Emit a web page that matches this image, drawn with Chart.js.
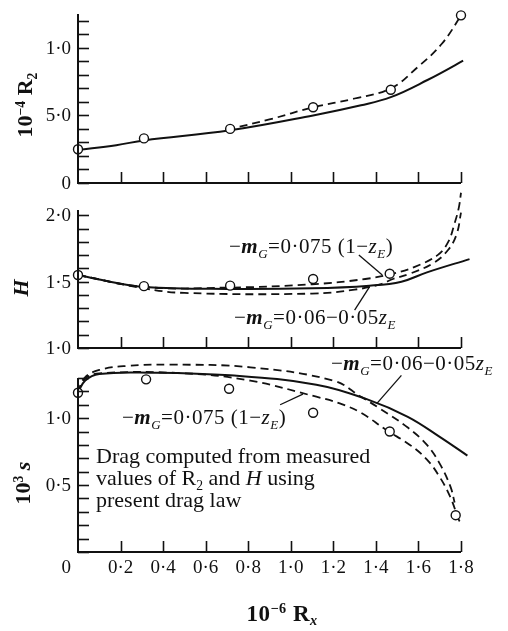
<!DOCTYPE html>
<html lang="en">
<head>
<meta charset="UTF-8">
<title>R2, H and skin friction against Rx</title>
<script src="https://cdn.jsdelivr.net/npm/chart.js"></script>
<style>
  body { margin: 0; background: #fff; }
  #wrap { position: relative; width: 508px; height: 631px; overflow: hidden;
          font-family: 'Liberation Serif', 'Times New Roman', serif; color: #111; }
  #wrap canvas { position: absolute; left: 0; top: 0; }
  .note { position: absolute; white-space: nowrap; font-size: 21px; line-height: 1; letter-spacing: 0.5px; }
  .note sub { font-size: 0.62em; vertical-align: -0.35em; line-height: 0; }
  .note sup { font-size: 0.62em; vertical-align: 0.55em; line-height: 0; }
  .ytitle { transform: translate(-50%, -50%) rotate(-90deg); font-weight: bold; font-size: 22px; letter-spacing: 0; }
  .xtitle { transform: translate(-50%, -50%); font-weight: bold; font-size: 23px; letter-spacing: 0.5px; }
  .drag { font-size: 22px; line-height: 22px; letter-spacing: 0; }
</style>
</head>
<body>
<div id="wrap">
  <canvas id="r2Chart" width="508" height="631"></canvas>
  <canvas id="hChart" width="508" height="631"></canvas>
  <canvas id="sChart" width="508" height="631"></canvas>

  <div class="note ytitle" style="left:25px; top:105px;">10<sup>−4</sup> R<sub>2</sub></div>
  <div class="note ytitle" style="left:21px; top:288px;"><i>H</i></div>
  <div class="note ytitle" style="left:23px; top:483px;">10<sup>3</sup> <i>s</i></div>
  <div class="note xtitle" style="left:282px; top:613px;">10<sup>−6</sup> R<sub><i>x</i></sub></div>

  <div class="note" style="left:229px; top:236px;">−<i><b>m</b><sub>G</sub></i>=0·075 (1−<i>z<sub>E</sub></i>)</div>
  <div class="note" style="left:234px; top:307px;">−<i><b>m</b><sub>G</sub></i>=0·06−0·05<i>z<sub>E</sub></i></div>
  <div class="note" style="left:331px; top:353px;">−<i><b>m</b><sub>G</sub></i>=0·06−0·05<i>z<sub>E</sub></i></div>
  <div class="note" style="left:122px; top:407px;">−<i><b>m</b><sub>G</sub></i>=0·075 (1−<i>z<sub>E</sub></i>)</div>
  <div class="note drag" style="left:96px; top:445px;">Drag computed from measured<br>values of R<sub>2</sub> and <i>H</i> using<br>present drag law</div>
</div>

<script>
  // shared x axis (10^-6 Rx)
  const xTickValues = [0, 0.2, 0.4, 0.6, 0.8, 1.0, 1.2, 1.4, 1.6, 1.8];
  const xTickLabels = ['0', '0·2', '0·4', '0·6', '0·8', '1·0', '1·2', '1·4', '1·6', '1·8'];

  // top panel: 10^-4 R2
  const r2Measured = [[0, 0.25], [0.31, 0.33], [0.715, 0.40], [1.105, 0.56], [1.47, 0.69], [1.8, 1.24]];
  const r2Solid = [[0, 0.245], [0.18, 0.28], [0.31, 0.315], [0.715, 0.39], [1.105, 0.50], [1.33, 0.575],
                   [1.47, 0.635], [1.64, 0.76], [1.81, 0.905], [1.84, 0.935]];
  const r2Dashed = [[0.7, 0.395], [0.9, 0.47], [1.105, 0.56], [1.3, 0.625], [1.47, 0.70], [1.595, 0.855],
                    [1.71, 1.03], [1.8, 1.24], [1.82, 1.30]];
  const r2TickValues = [0, 0.5, 1.0];
  const r2TickLabels = ['0', '5·0', '1·0'];

  // middle panel: H
  const hMeasured = [[0, 1.55], [0.31, 1.466], [0.715, 1.47], [1.105, 1.52], [1.465, 1.56], [1.8, 2.165]];
  const hSolid = [[0, 1.55], [0.15, 1.50], [0.31, 1.46], [0.7, 1.445], [1.1, 1.45], [1.37, 1.47],
                  [1.52, 1.50], [1.64, 1.57], [1.84, 1.67]];
  const hDashed075 = [[0, 1.55], [0.31, 1.46], [0.7, 1.455], [1.1, 1.48], [1.35, 1.52], [1.48, 1.56],
                      [1.58, 1.61], [1.69, 1.70], [1.74, 1.80], [1.77, 1.94], [1.79, 2.06], [1.80, 2.17]];
  const hDashed006 = [[0, 1.55], [0.31, 1.45], [0.5, 1.415], [1.1, 1.41], [1.3, 1.44], [1.42, 1.48],
                      [1.48, 1.52], [1.56, 1.56], [1.67, 1.64], [1.74, 1.74], [1.78, 1.86], [1.80, 2.02]];
  const hTickValues = [1.0, 1.5, 2.0];
  const hTickLabels = ['1·0', '1·5', '2·0'];

  // bottom panel: 10^3 s
  const sMeasured = [[0, 1.19], [0.32, 1.29], [0.71, 1.22], [1.105, 1.04], [1.465, 0.90], [1.775, 0.275]];
  const sSolid = [[0, 1.19], [0.033, 1.28], [0.1, 1.33], [0.34, 1.34], [0.715, 1.32], [1.12, 1.25],
                  [1.36, 1.14], [1.55, 1.01], [1.70, 0.86], [1.83, 0.72]];
  const sDashed006 = [[0, 1.19], [0.03, 1.30], [0.1, 1.36], [0.23, 1.39], [0.43, 1.40], [0.81, 1.38],
                      [1.2, 1.28], [1.33, 1.16], [1.42, 1.07], [1.55, 0.93], [1.64, 0.80], [1.70, 0.66],
                      [1.75, 0.49], [1.77, 0.37]];
  const sDashed075 = [[0, 1.19], [0.03, 1.29], [0.1, 1.335], [0.5, 1.335], [0.81, 1.28], [1.12, 1.16],
                      [1.23, 1.11], [1.33, 1.04], [1.45, 0.91], [1.56, 0.80], [1.64, 0.69], [1.70, 0.56],
                      [1.75, 0.41], [1.79, 0.24], [1.80, 0.215]];
  const sTickValues = [0.5, 1.0];
  const sTickLabels = ['0·5', '1·0'];

  const INK = '#111';
  const SERIF = "'Liberation Serif', 'Times New Roman', serif";
  const toXY = arr => arr.map(([x, y]) => ({ x, y }));

  // axes, inward ticks, tick labels and leader lines
  const framePlugin = {
    id: 'frame',
    afterDraw(chart, args, opts) {
      const { ctx, chartArea: a } = chart;
      const xs = chart.scales.x, ys = chart.scales.y;
      ctx.save();
      ctx.strokeStyle = INK;
      ctx.fillStyle = INK;
      ctx.lineWidth = 2;
      ctx.beginPath();
      ctx.moveTo(a.left, a.top);
      ctx.lineTo(a.left, a.bottom);
      ctx.lineTo(a.right, a.bottom);
      ctx.stroke();

      ctx.lineWidth = 1.6;
      for (let i = Math.ceil(ys.min * 10 - 1e-6); i <= Math.floor(ys.max * 10 + 1e-6); i++) {
        const py = Math.round(ys.getPixelForValue(i / 10)) + 0.5;
        ctx.beginPath();
        ctx.moveTo(a.left, py);
        ctx.lineTo(a.left + 11, py);
        ctx.stroke();
      }
      xTickValues.forEach(v => {
        if (v === 0) return;
        const px = Math.round(xs.getPixelForValue(v)) + 0.5;
        ctx.beginPath();
        ctx.moveTo(px, a.bottom);
        ctx.lineTo(px, a.bottom - 11);
        ctx.stroke();
      });

      ctx.font = '19px ' + SERIF;
      ctx.textAlign = 'right';
      ctx.textBaseline = 'middle';
      opts.yValues.forEach((v, i) => {
        ctx.fillText(opts.yLabels[i], a.left - 7, ys.getPixelForValue(v) + 1);
      });
      if (opts.xLabels) {
        xTickValues.forEach((v, i) => {
          if (v === 0) {
            ctx.textAlign = 'right';
            ctx.fillText(xTickLabels[i], a.left - 7, a.bottom + 16);
          } else {
            ctx.textAlign = 'center';
            ctx.fillText(xTickLabels[i], xs.getPixelForValue(v), a.bottom + 16);
          }
        });
      }

      ctx.lineWidth = 1.3;
      (opts.leaders || []).forEach(([x1, y1, x2, y2]) => {
        ctx.beginPath();
        ctx.moveTo(xs.getPixelForValue(x1), ys.getPixelForValue(y1));
        ctx.lineTo(xs.getPixelForValue(x2), ys.getPixelForValue(y2));
        ctx.stroke();
      });
      ctx.restore();
    }
  };

  const solid = data => ({
    data: toXY(data), borderColor: INK, borderWidth: 2, pointRadius: 0,
    tension: 0.4, fill: false, clip: false, order: 2
  });
  const dashed = data => ({
    data: toXY(data), borderColor: INK, borderWidth: 1.8, borderDash: [8, 5], pointRadius: 0,
    tension: 0.4, fill: false, clip: false, order: 2
  });
  const measured = data => ({
    data: toXY(data), showLine: false, pointStyle: 'circle', pointRadius: 4.5,
    pointBackgroundColor: '#fff', pointBorderColor: INK, pointBorderWidth: 1.4, clip: false, order: 1
  });

  function panel(id, datasets, yMin, yMax, padTop, padBottom, frame) {
    return new Chart(document.getElementById(id), {
      type: 'line',
      data: { datasets },
      options: {
        responsive: false,
        animation: false,
        events: [],
        layout: { padding: { left: 78, right: 47, top: padTop, bottom: padBottom } },
        plugins: { legend: { display: false }, tooltip: { enabled: false }, frame },
        scales: {
          x: { type: 'linear', min: 0, max: 1.8, display: false },
          y: { type: 'linear', min: yMin, max: yMax, display: false }
        }
      },
      plugins: [framePlugin]
    });
  }

  panel('r2Chart',
    [solid(r2Solid), dashed(r2Dashed), measured(r2Measured)],
    0, 1.25, 14, 448,
    { yValues: r2TickValues, yLabels: r2TickLabels });

  panel('hChart',
    [solid(hSolid), dashed(hDashed075), dashed(hDashed006), measured(hMeasured)],
    1.0, 2.04, 210, 283,
    { yValues: hTickValues, yLabels: hTickLabels,
      leaders: [[1.32, 1.70, 1.43, 1.55], [1.30, 1.285, 1.37, 1.46]] });

  panel('sChart',
    [solid(sSolid), dashed(sDashed006), dashed(sDashed075), measured(sMeasured)],
    0, 1.3, 378, 79,
    { yValues: sTickValues, yLabels: sTickLabels, xLabels: true,
      leaders: [[1.52, 1.32, 1.405, 1.11], [0.95, 1.10, 1.057, 1.18]] });
</script>
</body>
</html>
